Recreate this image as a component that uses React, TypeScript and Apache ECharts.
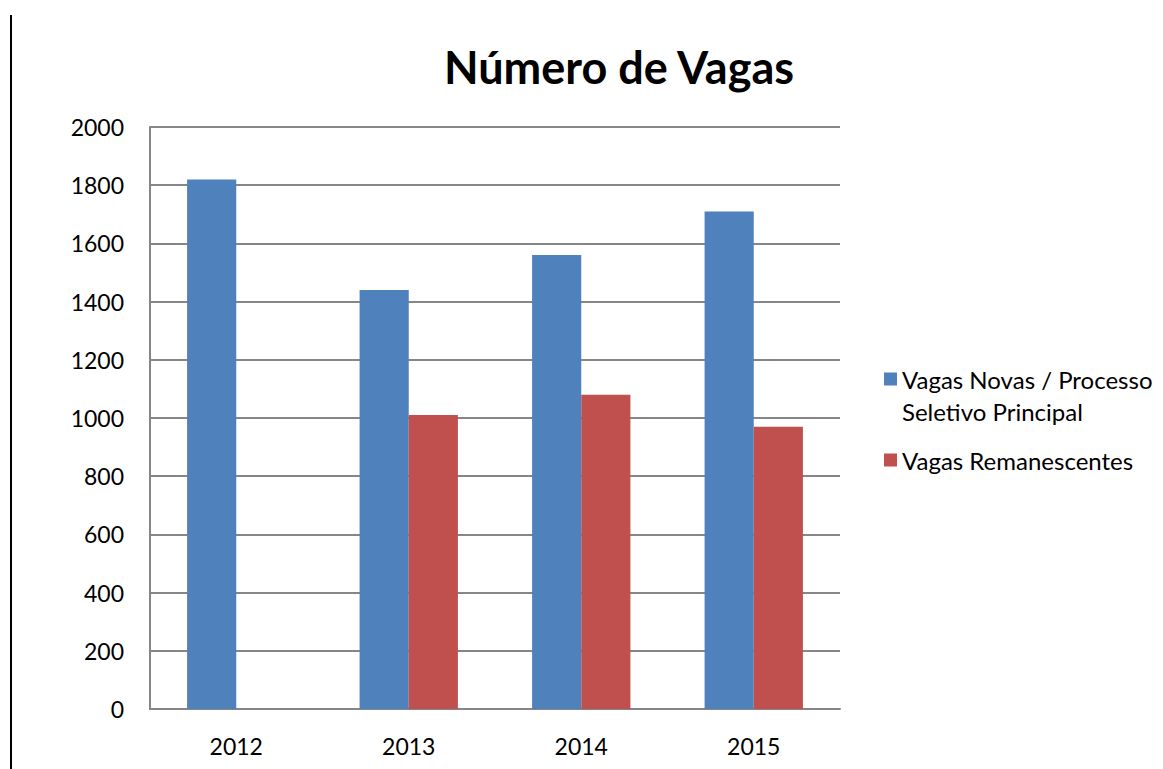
import { useEffect, useRef } from "react";
import * as echarts from "echarts";

const title = "Número de Vagas";
const categories = ["2012", "2013", "2014", "2015"];
const seriesNames = ["Vagas Novas / Processo Seletivo Principal", "Vagas Remanescentes"];
const legendLabels = ["Vagas Novas / Processo\nSeletivo Principal", "Vagas Remanescentes"];
const novas = [1820, 1440, 1560, 1710];
const remanescentes: (number | null)[] = [null, 1010, 1080, 970];
const yMin = 0;
const yMax = 2000;
const yStep = 200;

const FONT = "Lato, 'Open Sans', sans-serif";

export default function App() {
  const ref = useRef<HTMLDivElement>(null);
  useEffect(() => {
    if (!ref.current) return;
    const chart = echarts.init(ref.current, null, { renderer: "svg" });
    chart.setOption({
      animation: false,
      backgroundColor: "#ffffff",
      textStyle: { fontFamily: FONT },
      title: {
        text: title,
        left: 614,
        textAlign: "center",
        top: 39,
        textStyle: { fontFamily: FONT, fontWeight: "bold", fontSize: 45, color: "#000" },
      },
      legend: [
        {
          data: [seriesNames[0]],
          orient: "vertical",
          left: 884,
          top: 331,
          padding: 0,
          icon: "rect",
          itemWidth: 13,
          itemHeight: 13,
          formatter: () => "\n" + legendLabels[0],
          textStyle: {
            fontFamily: FONT,
            fontSize: 24,
            color: "#000",
            lineHeight: 32,
          },
          selectedMode: false,
        },
        {
          data: [seriesNames[1]],
          orient: "vertical",
          left: 884,
          top: 444,
          padding: 0,
          icon: "rect",
          itemWidth: 13,
          itemHeight: 13,
          formatter: () => legendLabels[1],
          textStyle: { fontFamily: FONT, fontSize: 24, color: "#000", lineHeight: 32 },
          selectedMode: false,
        },
      ],
      grid: { left: 150, right: 323, top: 127, bottom: 60, containLabel: false },
      xAxis: {
        type: "category",
        data: categories,
        axisLine: { show: true, lineStyle: { color: "#868686", width: 2 } },
        axisTick: { show: false },
        axisLabel: { fontFamily: FONT, fontSize: 23, color: "#000", margin: 25 },
      },
      yAxis: {
        type: "value",
        min: yMin,
        max: yMax,
        interval: yStep,
        axisLine: { show: true, lineStyle: { color: "#868686", width: 2 } },
        axisTick: { show: false },
        splitLine: { show: true, lineStyle: { color: "#868686", width: 2 } },
        axisLabel: {
          fontFamily: FONT,
          fontSize: 23,
          color: "#000",
          margin: 26,
          formatter: (v: number) => String(v),
        },
      },
      series: [
        {
          name: seriesNames[0],
          type: "bar",
          data: novas,
          itemStyle: { color: "#4F81BD" },
          barGap: "0%",
          barCategoryGap: "43%",
        },
        {
          name: seriesNames[1],
          type: "bar",
          data: remanescentes,
          itemStyle: { color: "#C0504D" },
          barGap: "0%",
          barCategoryGap: "43%",
        },
      ],
      graphic: [
        {
          type: "line",
          shape: { x1: 11, y1: 15, x2: 11, y2: 769 },
          style: { stroke: "#000", lineWidth: 2 },
        },
      ],
    });
    return () => chart.dispose();
  }, []);
  return (
    <div
      ref={ref}
      style={{ position: "absolute", left: 0, top: 0, width: 1163, height: 769 }}
    />
  );
}
